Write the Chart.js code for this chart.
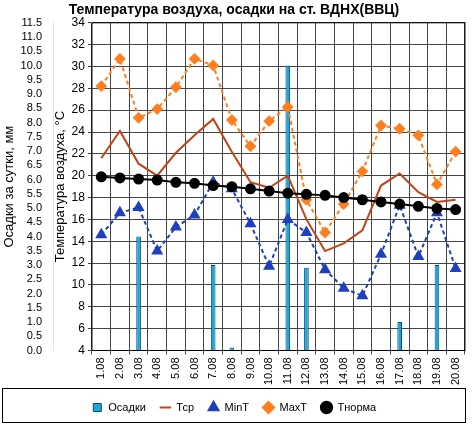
<!DOCTYPE html><html><head><meta charset="utf-8"><script src="https://cdn.jsdelivr.net/npm/chart.js@4"></script>
<style>body{margin:0;background:#fff}#w{width:472px;height:427px}</style></head><body><div id="w"><canvas id="c"></canvas></div><script>
const dates=['1.08','2.08','3.08','4.08','5.08','6.08','7.08','8.08','9.08','10.08','11.08','12.08','13.08','14.08','15.08','16.08','17.08','18.08','19.08','20.08'];
const precip=[0,0,4.0,0,0,0,3.0,0.1,0,0,10.0,2.9,0,0,0,0,1.0,0,3.0,0];
const tAvg=[21.6,24.1,21.1,20.0,22.1,23.7,25.2,22.2,19.4,18.9,20.0,16.0,13.1,13.8,15.0,19.1,20.2,18.5,17.6,17.8];
const tMin=[14.6,16.6,17.1,13.1,15.3,16.4,19.4,18.8,15.6,11.7,16.0,14.8,11.4,9.7,9.0,12.8,17.3,12.6,16.6,11.5];
const tMax=[28.2,30.7,25.3,26.1,28.1,30.7,30.1,25.1,22.7,25.0,26.3,17.8,14.8,17.4,20.4,24.6,24.3,23.7,19.2,22.2];
const tNorm=[19.9,19.8,19.7,19.6,19.4,19.3,19.1,19.0,18.8,18.6,18.4,18.3,18.2,18.0,17.8,17.6,17.4,17.2,17.0,16.9];
const border={id:'b',afterDraw(c){const x=c.ctx,a=c.chartArea,l=c.legend;x.save();x.strokeStyle='#000';x.lineWidth=1;x.strokeRect(a.left,a.top,a.right-a.left,a.bottom-a.top);x.strokeRect(l.left+0.5,l.top+0.5,l.width-1,l.height-1);x.restore();}};
const grid={color:'#444',lineWidth:1,borderDash:[1,2],drawTicks:true,tickLength:4};
new Chart(document.getElementById('c'),{data:{labels:dates,datasets:[
{type:'bar',label:'Осадки',data:precip,yAxisID:'yp',backgroundColor:'#1aa7e0',borderColor:'#0b4f6e',borderWidth:1,barPercentage:0.25,categoryPercentage:1,pointStyle:'rect',order:5},
{type:'line',label:'Тср',data:tAvg,yAxisID:'yt',borderColor:'#c0441a',backgroundColor:'#c0441a',borderWidth:2,pointRadius:0,pointStyle:'line',order:4},
{type:'line',label:'MinT',data:tMin,yAxisID:'yt',borderColor:'#1f3fbf',backgroundColor:'#1f3fbf',borderWidth:2,borderDash:[4,3],pointStyle:'triangle',pointRadius:5,order:3},
{type:'line',label:'MaxT',data:tMax,yAxisID:'yt',borderColor:'#ff7f1f',backgroundColor:'#ff7f1f',borderWidth:2,borderDash:[4,3],pointStyle:'rectRot',pointRadius:4.5,order:2},
{type:'line',label:'Тнорма',data:tNorm,yAxisID:'yt',borderColor:'#000',backgroundColor:'#000',borderWidth:2,pointStyle:'circle',pointRadius:4.5,order:1}]},
options:{responsive:true,maintainAspectRatio:false,animation:false,layout:{padding:{left:2,right:6,top:0,bottom:4}},
plugins:{title:{display:true,text:'Температура воздуха, осадки на ст. ВДНХ(ВВЦ)',font:{family:'Arial, Liberation Sans',size:14,weight:'bold'},color:'#000',padding:{top:2,bottom:4}},
legend:{position:'bottom',labels:{usePointStyle:true,boxWidth:12,boxHeight:8,padding:14,color:'#000',font:{family:'Liberation Sans',size:11},sort:(a,b)=>a.datasetIndex-b.datasetIndex}},tooltip:{enabled:false}},
scales:{x:{offset:true,grid:grid,ticks:{color:'#000',maxRotation:90,minRotation:90,autoSkip:false,font:{family:'Liberation Sans',size:11}}},
yt:{position:'left',weight:0,min:4,max:34,grid:grid,ticks:{stepSize:2,autoSkip:false,color:'#000',font:{family:'Liberation Sans',size:12}},title:{display:true,text:'Температура воздуха, °C',color:'#000',font:{family:'Liberation Sans',size:13},padding:0}},
yp:{position:'left',weight:1,min:0,max:11.5,grid:{display:false},ticks:{stepSize:0.5,autoSkip:false,color:'#000',callback:v=>v.toFixed(1),font:{family:'Liberation Sans',size:11}},title:{display:true,text:'Осадки за сутки, мм',color:'#000',font:{family:'Liberation Sans',size:13},padding:0}}}},plugins:[border]});
</script></body></html>
